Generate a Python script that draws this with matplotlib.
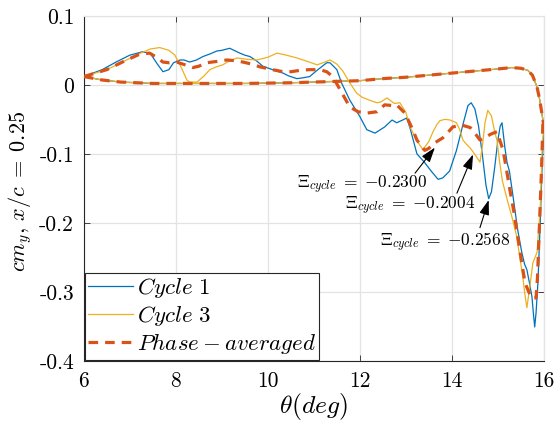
import matplotlib
matplotlib.use("Agg")
import matplotlib.pyplot as plt

# shared pitch-up branch (theta increasing)
theta_up = [6.0, 6.4, 6.8, 7.5, 8.5, 9.5, 10.5, 11.5, 12.0, 12.5, 13.0, 13.5, 14.0,
            14.5, 15.0, 15.3, 15.5, 15.65, 15.75, 15.85, 15.91, 16.0]
cm_up = [0.012, 0.007, 0.004, 0.002, 0.002, 0.002, 0.003, 0.005, 0.006, 0.009, 0.011,
         0.014, 0.017, 0.020, 0.023, 0.025, 0.024, 0.021, 0.014, -0.003, -0.022, -0.060]

# pitch-down branch, cycle 1
theta_c1 = [16.0, 15.96, 15.92, 15.87, 15.83, 15.80, 15.77, 15.74, 15.68, 15.63, 15.58,
            15.52, 15.43, 15.33, 15.25, 15.2, 15.15, 15.09, 15.05, 15.0, 14.93, 14.86,
            14.80, 14.74, 14.66, 14.58, 14.50, 14.42, 14.35, 14.25, 14.1, 13.95, 13.80,
            13.70, 13.55, 13.40, 13.24, 13.10, 13.02, 12.93, 12.80, 12.70, 12.54, 12.33,
            12.15, 12.00, 11.78, 11.6, 11.5, 11.35, 11.28, 11.05, 10.91, 10.75, 10.63,
            10.45, 10.33, 10.10, 9.89, 9.75, 9.61, 9.50, 9.39, 9.17, 9.0, 8.89, 8.75,
            8.59, 8.45, 8.30, 8.18, 8.09, 7.95, 7.85, 7.72, 7.60, 7.45, 7.28, 7.0, 6.7,
            6.4, 6.0]
cm_c1 = [-0.060, -0.120, -0.200, -0.287, -0.330, -0.351, -0.330, -0.307, -0.285, -0.268,
         -0.260, -0.243, -0.210, -0.162, -0.125, -0.113, -0.090, -0.055, -0.060, -0.080,
         -0.120, -0.155, -0.165, -0.145, -0.100, -0.060, -0.035, -0.026, -0.030, -0.055,
         -0.095, -0.125, -0.135, -0.137, -0.125, -0.112, -0.100, -0.065, -0.048, -0.051,
         -0.055, -0.051, -0.061, -0.070, -0.065, -0.046, -0.022, 0.003, 0.022, 0.032,
         0.032, 0.020, 0.012, 0.010, 0.009, 0.013, 0.017, 0.022, 0.027, 0.035, 0.041,
         0.043, 0.046, 0.053, 0.050, 0.049, 0.045, 0.041, 0.036, 0.033, 0.036, 0.036,
         0.032, 0.022, 0.019, 0.030, 0.045, 0.048, 0.043, 0.033, 0.022, 0.012]

# pitch-down branch, cycle 3
theta_c3 = [16.0, 15.96, 15.92, 15.85, 15.76, 15.70, 15.63, 15.58, 15.54, 15.41, 15.30,
            15.22, 15.10, 15.04, 14.98, 14.93, 14.86, 14.78, 14.72, 14.66, 14.61, 14.54,
            14.46, 14.39, 14.30, 14.24, 14.17, 14.10, 13.96, 13.85, 13.74, 13.67, 13.59,
            13.50, 13.37, 13.25, 13.09, 13.0, 12.87, 12.75, 12.59, 12.45, 12.37, 12.2,
            12.05, 11.93, 11.78, 11.63, 11.50, 11.35, 11.2, 11.07, 10.9, 10.63, 10.4,
            10.2, 10.0, 9.76, 9.55, 9.33, 9.15, 9.02, 8.88, 8.74, 8.60, 8.46, 8.3, 8.24,
            8.12, 7.98, 7.85, 7.65, 7.45, 7.2, 6.9, 6.5, 6.0]
cm_c3 = [-0.060, -0.094, -0.180, -0.243, -0.258, -0.290, -0.323, -0.300, -0.278, -0.220,
         -0.190, -0.171, -0.140, -0.113, -0.080, -0.068, -0.045, -0.037, -0.055, -0.090,
         -0.112, -0.105, -0.097, -0.091, -0.085, -0.080, -0.065, -0.055, -0.051, -0.050,
         -0.052, -0.058, -0.068, -0.082, -0.094, -0.082, -0.061, -0.040, -0.026, -0.027,
         -0.019, -0.025, -0.026, -0.022, -0.018, -0.012, 0.003, 0.020, 0.030, 0.036,
         0.032, 0.029, 0.033, 0.039, 0.043, 0.046, 0.040, 0.036, 0.037, 0.039, 0.034,
         0.029, 0.026, 0.022, 0.012, 0.004, 0.004, 0.007, 0.025, 0.043, 0.050, 0.054,
         0.052, 0.045, 0.035, 0.022, 0.012]

# pitch-down branch, phase average
theta_pa = [16.0, 15.98, 15.95, 15.91, 15.86, 15.83, 15.74, 15.67, 15.59, 15.50, 15.43,
            15.35, 15.26, 15.18, 15.11, 15.04, 14.98, 14.90, 14.83, 14.76, 14.68, 14.61,
            14.50, 14.40, 14.30, 14.20, 14.10, 14.02, 13.90, 13.80, 13.63, 13.50, 13.41,
            13.35, 13.24, 13.15, 12.98, 12.80, 12.70, 12.54, 12.37, 12.15, 11.96, 11.78,
            11.57, 11.41, 11.28, 11.13, 10.90, 10.70, 10.50, 10.33, 10.10, 9.83, 9.65,
            9.46, 9.30, 9.11, 8.90, 8.67, 8.50, 8.37, 8.20, 8.02, 7.85, 7.72, 7.58, 7.43,
            7.2, 6.9, 6.5, 6.0]
cm_pa = [-0.060, -0.051, -0.120, -0.191, -0.280, -0.309, -0.309, -0.300, -0.287, -0.250,
         -0.220, -0.185, -0.152, -0.120, -0.094, -0.080, -0.068, -0.070, -0.072, -0.075,
         -0.078, -0.080, -0.070, -0.062, -0.060, -0.058, -0.060, -0.061, -0.070, -0.077,
         -0.084, -0.092, -0.095, -0.090, -0.080, -0.065, -0.041, -0.029, -0.030, -0.029,
         -0.039, -0.041, -0.039, -0.032, -0.007, 0.012, 0.019, 0.022, 0.022, 0.021,
         0.019, 0.019, 0.022, 0.026, 0.030, 0.033, 0.035, 0.036, 0.034, 0.032, 0.027,
         0.025, 0.029, 0.033, 0.032, 0.033, 0.040, 0.046, 0.044, 0.035, 0.022, 0.012]

# damping factor annotations: (label, text pos, arrow tail, arrow head)
xi_labels = [r"$\Xi_{cycle}\;=\;{-0.2300}$", r"$\Xi_{cycle}\;=\;{-0.2004}$",
             r"$\Xi_{cycle}\;=\;{-0.2568}$"]
xi_text = [(12.04, -0.145), (13.09, -0.175), (13.85, -0.229)]
xi_tail = [(13.20, -0.128), (14.11, -0.157), (14.61, -0.207)]
xi_head = [(13.63, -0.091), (14.46, -0.101), (14.80, -0.167)]

xticks = [6, 8, 10, 12, 14, 16]
yticks = [0.1, 0.0, -0.1, -0.2, -0.3, -0.4]
yticklabels = ["0.1", "0", "-0.1", "-0.2", "-0.3", "-0.4"]

C_BLUE = "#0072BD"
C_YELLOW = "#EDB120"
C_ORANGE = "#D95319"
C_GRID = "#e3e3e3"
C_AXIS = "#262626"

plt.rcParams["mathtext.fontset"] = "cm"
plt.rcParams["axes.unicode_minus"] = False

fig = plt.figure(figsize=(5.55, 4.28), dpi=100)
ax = fig.add_axes([0.151, 0.157, 0.829, 0.806])

ax.plot(theta_up + theta_c1, cm_up + cm_c1, color=C_BLUE, lw=0.9,
        label=r"$Cycle\ 1$", zorder=3)
ax.plot(theta_up + theta_c3, cm_up + cm_c3, color=C_YELLOW, lw=0.9,
        label=r"$Cycle\ 3$", zorder=3)
ax.plot(theta_up + theta_pa, cm_up + cm_pa, color=C_ORANGE, lw=2.3,
        ls=(0, (3, 2.2)), label=r"$Phase-averaged$", zorder=4)

for lab, tp, tail, head in zip(xi_labels, xi_text, xi_tail, xi_head):
    ax.text(tp[0], tp[1], lab, ha="center", va="center", fontsize=12.5, zorder=5)
    ax.annotate("", xy=head, xytext=tail,
                arrowprops=dict(arrowstyle="-|>,head_length=0.9,head_width=0.3",
                                color="k", lw=0.8, shrinkA=0, shrinkB=0),
                zorder=5)

ax.set_xlim(6, 16)
ax.set_ylim(-0.4, 0.1)
ax.set_xticks(xticks)
ax.set_xticklabels([str(t) for t in xticks], fontfamily="cmr10", fontsize=15.5)
ax.set_yticks(yticks)
ax.set_yticklabels(yticklabels, fontfamily="cmr10", fontsize=15.5)
ax.tick_params(direction="in", length=4.5, width=0.6, color=C_AXIS, top=True, right=True)
ax.tick_params(axis="y", pad=7)
ax.tick_params(axis="x", pad=8)
ax.grid(True, color=C_GRID, lw=0.9)
ax.set_axisbelow(True)
for side in ("left", "bottom"):
    ax.spines[side].set_color(C_AXIS)
    ax.spines[side].set_linewidth(0.8)
for side in ("top", "right"):
    ax.spines[side].set_color(C_GRID)
    ax.spines[side].set_linewidth(0.9)

ax.set_xlabel(r"$\theta(deg)$", fontsize=18.5, labelpad=0)
ax.set_ylabel(r"$cm_y,\,x/c\;=\;0.25$", fontsize=16)
ax.yaxis.set_label_coords(-0.108, 0.49)

leg = ax.legend(loc="lower left", fontsize=16.5, frameon=True, fancybox=False,
                handlelength=1.95, handletextpad=0.15, labelspacing=0.15,
                borderpad=0.15, borderaxespad=0.05, framealpha=1)
leg.get_frame().set_edgecolor(C_AXIS)
leg.get_frame().set_linewidth(0.8)

fig.savefig("out.png", dpi=100)
